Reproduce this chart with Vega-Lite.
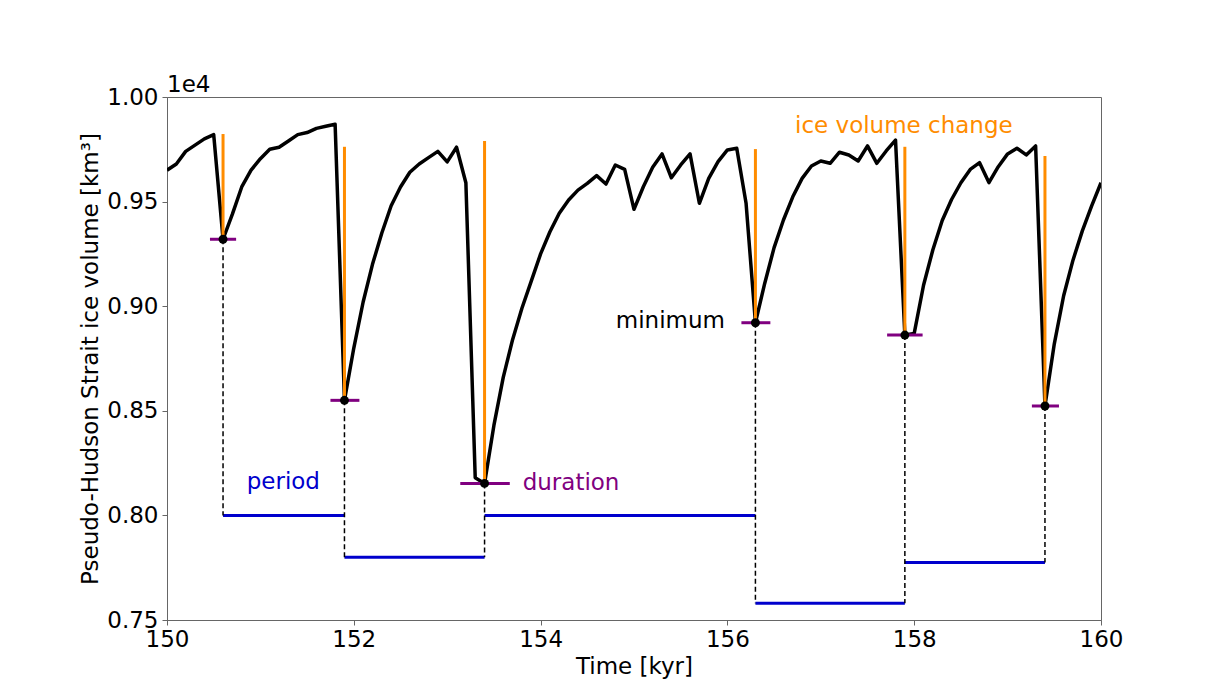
{
  "$schema": "https://vega.github.io/schema/vega-lite/v6.json",
  "width": 934,
  "height": 523,
  "autosize": {"type": "none"},
  "padding": {"left": 167, "top": 97, "right": 124, "bottom": 78},
  "background": "white",
  "title": {"text": "1e4", "anchor": "start", "frame": "group", "fontSize": 23, "fontWeight": "normal", "font": "DejaVu Sans", "color": "black", "offset": 3, "dy": 14},
  "config": {
    "font": "DejaVu Sans",
    "view": {"stroke": "#666", "strokeWidth": 1},
    "axis": {
      "grid": false,
      "labelFontSize": 23,
      "titleFontSize": 23,
      "titleFontWeight": "normal",
      "labelColor": "black",
      "titleColor": "black",
      "domainColor": "#666",
      "tickColor": "#666",
      "tickSize": 5,
      "labelFlush": false,
      "labelOverlap": false
    }
  },
  "datasets": {
    "ice": [
      {"t": 150.0, "v": 0.965}, {"t": 150.1, "v": 0.968}, {"t": 150.2, "v": 0.974}, {"t": 150.3, "v": 0.977}, {"t": 150.4, "v": 0.980}, {"t": 150.5, "v": 0.982},
      {"t": 150.6, "v": 0.932}, {"t": 150.7, "v": 0.944}, {"t": 150.8, "v": 0.957}, {"t": 150.9, "v": 0.965}, {"t": 151.0, "v": 0.9705}, {"t": 151.1, "v": 0.975},
      {"t": 151.2, "v": 0.976}, {"t": 151.3, "v": 0.979}, {"t": 151.4, "v": 0.982}, {"t": 151.5, "v": 0.983}, {"t": 151.6, "v": 0.985}, {"t": 151.7, "v": 0.986},
      {"t": 151.8, "v": 0.987}, {"t": 151.9, "v": 0.855}, {"t": 152.0, "v": 0.880}, {"t": 152.1, "v": 0.902}, {"t": 152.2, "v": 0.920}, {"t": 152.3, "v": 0.935},
      {"t": 152.4, "v": 0.948}, {"t": 152.5, "v": 0.957}, {"t": 152.6, "v": 0.964}, {"t": 152.7, "v": 0.968}, {"t": 152.8, "v": 0.971}, {"t": 152.9, "v": 0.974},
      {"t": 153.0, "v": 0.969}, {"t": 153.1, "v": 0.976}, {"t": 153.2, "v": 0.959}, {"t": 153.3, "v": 0.818}, {"t": 153.4, "v": 0.8153}, {"t": 153.5, "v": 0.843},
      {"t": 153.6, "v": 0.866}, {"t": 153.7, "v": 0.884}, {"t": 153.8, "v": 0.899}, {"t": 153.9, "v": 0.912}, {"t": 154.0, "v": 0.925}, {"t": 154.1, "v": 0.9356},
      {"t": 154.2, "v": 0.9444}, {"t": 154.3, "v": 0.9508}, {"t": 154.4, "v": 0.9555}, {"t": 154.5, "v": 0.9587}, {"t": 154.6, "v": 0.9624}, {"t": 154.7, "v": 0.9584},
      {"t": 154.8, "v": 0.9675}, {"t": 154.9, "v": 0.9654}, {"t": 155.0, "v": 0.9463}, {"t": 155.1, "v": 0.9571}, {"t": 155.2, "v": 0.9664}, {"t": 155.3, "v": 0.9728},
      {"t": 155.4, "v": 0.9614}, {"t": 155.5, "v": 0.9675}, {"t": 155.6, "v": 0.9728}, {"t": 155.7, "v": 0.9492}, {"t": 155.8, "v": 0.9611}, {"t": 155.9, "v": 0.9691},
      {"t": 156.0, "v": 0.9747}, {"t": 156.1, "v": 0.9755}, {"t": 156.2, "v": 0.9492}, {"t": 156.3, "v": 0.8921}, {"t": 156.4, "v": 0.911}, {"t": 156.5, "v": 0.928},
      {"t": 156.6, "v": 0.9412}, {"t": 156.7, "v": 0.9523}, {"t": 156.8, "v": 0.9611}, {"t": 156.9, "v": 0.967}, {"t": 157.0, "v": 0.9694}, {"t": 157.1, "v": 0.9683},
      {"t": 157.2, "v": 0.9736}, {"t": 157.3, "v": 0.9723}, {"t": 157.4, "v": 0.9694}, {"t": 157.5, "v": 0.9766}, {"t": 157.6, "v": 0.9683}, {"t": 157.7, "v": 0.9742},
      {"t": 157.8, "v": 0.9794}, {"t": 157.9, "v": 0.8862}, {"t": 158.0, "v": 0.887}, {"t": 158.1, "v": 0.910}, {"t": 158.2, "v": 0.927}, {"t": 158.3, "v": 0.941},
      {"t": 158.4, "v": 0.951}, {"t": 158.5, "v": 0.959}, {"t": 158.6, "v": 0.9654}, {"t": 158.7, "v": 0.9686}, {"t": 158.8, "v": 0.9591}, {"t": 158.9, "v": 0.9667},
      {"t": 159.0, "v": 0.9728}, {"t": 159.1, "v": 0.9755}, {"t": 159.2, "v": 0.9723}, {"t": 159.3, "v": 0.9766}, {"t": 159.4, "v": 0.8523}, {"t": 159.5, "v": 0.882},
      {"t": 159.6, "v": 0.905}, {"t": 159.7, "v": 0.922}, {"t": 159.8, "v": 0.936}, {"t": 159.9, "v": 0.948}, {"t": 160.0, "v": 0.959}
    ],
    "minima": [
      {"t": 150.6, "v": 0.932, "top": 0.9823, "d0": 150.46, "d1": 150.74, "bottom": 0.800},
      {"t": 151.9, "v": 0.855, "top": 0.9762, "d0": 151.75, "d1": 152.06, "bottom": 0.780},
      {"t": 153.4, "v": 0.8153, "top": 0.979, "d0": 153.14, "d1": 153.67, "bottom": 0.780},
      {"t": 156.3, "v": 0.8921, "top": 0.9751, "d0": 156.15, "d1": 156.46, "bottom": 0.758},
      {"t": 157.9, "v": 0.8862, "top": 0.9762, "d0": 157.71, "d1": 158.09, "bottom": 0.758},
      {"t": 159.4, "v": 0.8523, "top": 0.9718, "d0": 159.26, "d1": 159.55, "bottom": 0.7775}
    ],
    "periods": [
      {"t0": 150.6, "t1": 151.9, "y": 0.800},
      {"t0": 151.9, "t1": 153.4, "y": 0.780},
      {"t0": 153.4, "t1": 156.3, "y": 0.800},
      {"t0": 156.3, "t1": 157.9, "y": 0.758},
      {"t0": 157.9, "t1": 159.4, "y": 0.7775}
    ],
    "labels": [
      {"label": "ice volume change", "t": 156.724, "v": 0.9829},
      {"label": "period", "t": 150.853, "v": 0.8127},
      {"label": "duration", "t": 153.808, "v": 0.8122}
    ],
    "labels2": [
      {"label": "minimum", "t": 155.974, "v": 0.8894}
    ]
  },
  "layer": [
    {
      "data": {"name": "periods"},
      "mark": {"type": "rule", "color": "#0000cd", "strokeWidth": 3},
      "encoding": {
        "x": {"field": "t0", "type": "quantitative", "title": "Time [kyr]", "scale": {"domain": [150, 160], "nice": false, "zero": false},
              "axis": {"values": [150, 152, 154, 156, 158, 160], "format": "d", "labelPadding": 3, "titlePadding": 4}},
        "x2": {"field": "t1"},
        "y": {"field": "y", "type": "quantitative", "title": "Pseudo-Hudson Strait ice volume [km³]", "scale": {"domain": [0.75, 1.0], "nice": false, "zero": false},
              "axis": {"values": [0.75, 0.8, 0.85, 0.9, 0.95, 1.0], "format": ".2f", "labelPadding": 4, "titlePadding": 4}}
      }
    },
    {
      "data": {"name": "minima"},
      "mark": {"type": "rule", "color": "black", "strokeWidth": 1.5, "strokeDash": [5, 3]},
      "encoding": {
        "x": {"field": "t", "type": "quantitative", "title": "Time [kyr]"},
        "y": {"field": "v", "type": "quantitative", "title": "Pseudo-Hudson Strait ice volume [km³]"},
        "y2": {"field": "bottom"}
      }
    },
    {
      "data": {"name": "ice"},
      "mark": {"type": "line", "color": "black", "strokeWidth": 3.5, "strokeJoin": "round", "clip": true},
      "encoding": {
        "x": {"field": "t", "type": "quantitative", "title": "Time [kyr]"},
        "y": {"field": "v", "type": "quantitative", "title": "Pseudo-Hudson Strait ice volume [km³]"}
      }
    },
    {
      "data": {"name": "minima"},
      "mark": {"type": "rule", "color": "#ff8c00", "strokeWidth": 3},
      "encoding": {
        "x": {"field": "t", "type": "quantitative", "title": "Time [kyr]"},
        "y": {"field": "v", "type": "quantitative", "title": "Pseudo-Hudson Strait ice volume [km³]"},
        "y2": {"field": "top"}
      }
    },
    {
      "data": {"name": "minima"},
      "mark": {"type": "rule", "color": "#800080", "strokeWidth": 3},
      "encoding": {
        "x": {"field": "d0", "type": "quantitative", "title": "Time [kyr]"},
        "x2": {"field": "d1"},
        "y": {"field": "v", "type": "quantitative", "title": "Pseudo-Hudson Strait ice volume [km³]"}
      }
    },
    {
      "data": {"name": "minima"},
      "mark": {"type": "point", "filled": true, "color": "black", "size": 80, "opacity": 1},
      "encoding": {
        "x": {"field": "t", "type": "quantitative", "title": "Time [kyr]"},
        "y": {"field": "v", "type": "quantitative", "title": "Pseudo-Hudson Strait ice volume [km³]"}
      }
    },
    {
      "data": {"name": "labels"},
      "mark": {"type": "text", "align": "left", "baseline": "alphabetic", "fontSize": 23, "font": "DejaVu Sans"},
      "encoding": {
        "x": {"field": "t", "type": "quantitative", "title": "Time [kyr]"},
        "y": {"field": "v", "type": "quantitative", "title": "Pseudo-Hudson Strait ice volume [km³]"},
        "text": {"field": "label"},
        "color": {"field": "label", "type": "nominal", "legend": null,
                  "scale": {"domain": ["ice volume change", "period", "duration"], "range": ["#ff8c00", "#0000cd", "#800080"]}}
      }
    },
    {
      "data": {"name": "labels2"},
      "mark": {"type": "text", "align": "right", "baseline": "alphabetic", "fontSize": 23, "font": "DejaVu Sans", "color": "black"},
      "encoding": {
        "x": {"field": "t", "type": "quantitative", "title": "Time [kyr]"},
        "y": {"field": "v", "type": "quantitative", "title": "Pseudo-Hudson Strait ice volume [km³]"},
        "text": {"field": "label"}
      }
    }
  ]
}
